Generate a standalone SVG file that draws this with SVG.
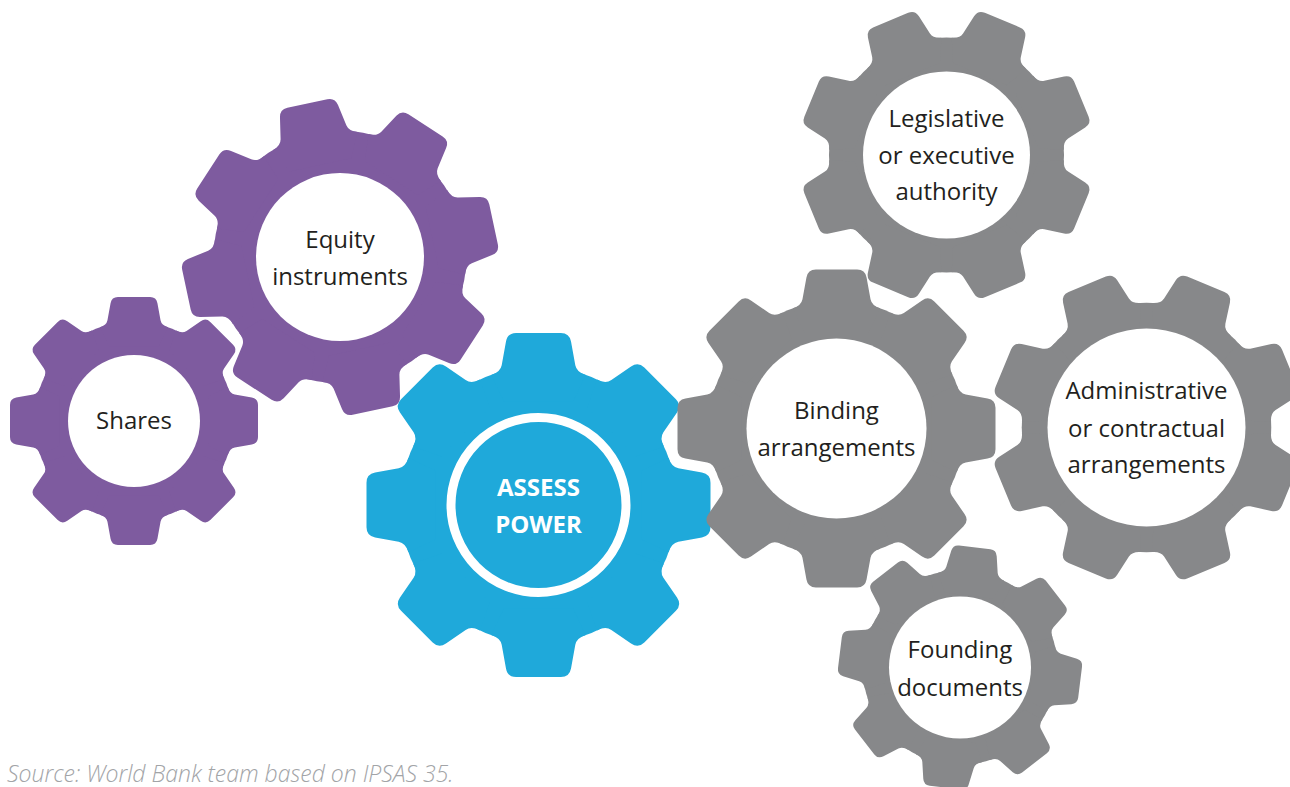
<svg xmlns="http://www.w3.org/2000/svg" xmlns:xlink="http://www.w3.org/1999/xlink" width="1290" height="787" viewBox="0 0 1290 787">
  <style>
    .purple { fill: #7e5b9f; }
    .blue { fill: #1fa9da; }
    .gray { fill: #87888a; }
    .hole { fill: #ffffff; }
    .label { font-family: "Open Sans", "Liberation Sans", sans-serif; font-size: 24px; fill: #231f20; text-anchor: middle; }
    .label-strong { font-family: "Open Sans", "Liberation Sans", sans-serif; font-size: 24px; font-weight: 700; fill: #ffffff; text-anchor: middle; }
    .source { font-family: "Open Sans", "Liberation Sans", sans-serif; font-size: 23px; font-style: italic; font-weight: 300; fill: #a2a4a7; }
  </style>
  <defs>
    <!-- one tooth pointing along +x, tip at radius 100, with filleted roots -->
    <path id="tooth" d="M75.6,27.5 Q77.3,22.15 81.3,21.4 L95,18.9 Q100,18 100,13 L100,-13 Q100,-18 95,-18.9 L81.3,-21.4 Q77.3,-22.15 75.6,-27.5 L60,-20 L60,20 Z"/>
    <!-- eight-tooth gear, outer radius 100 -->
    <g id="gear">
      <circle r="80.5"/>
      <use href="#tooth"/>
      <use href="#tooth" transform="rotate(45)"/>
      <use href="#tooth" transform="rotate(90)"/>
      <use href="#tooth" transform="rotate(135)"/>
      <use href="#tooth" transform="rotate(180)"/>
      <use href="#tooth" transform="rotate(225)"/>
      <use href="#tooth" transform="rotate(270)"/>
      <use href="#tooth" transform="rotate(315)"/>
    </g>
  </defs>

  <rect width="1290" height="787" fill="#ffffff"/>

  <g id="connectors"></g>

  <g id="node-shares">
    <use href="#gear" class="purple" transform="translate(134,421) scale(1.24)"/>
    <circle class="hole" cx="134" cy="421" r="66"/>
    <text class="label" x="134" y="429">Shares</text>
  </g>

  <g id="node-equity">
    <use href="#gear" class="purple" transform="translate(340,257) rotate(-12) scale(1.57)"/>
    <circle class="hole" cx="340" cy="257" r="84"/>
    <text class="label" x="340" y="248">Equity</text>
    <text class="label" x="340" y="285">instruments</text>
  </g>

  <g id="node-assess-power">
    <use href="#gear" class="blue" transform="translate(538.5,505) scale(1.72)"/>
    <circle cx="538.5" cy="505" r="87.5" fill="none" stroke="#ffffff" stroke-width="9"/>
    <text class="label-strong" x="538.5" y="496">ASSESS</text>
    <text class="label-strong" x="538.5" y="533">POWER</text>
  </g>

  <g id="node-legislative">
    <use href="#gear" class="gray" transform="translate(946.5,155) rotate(22.5) scale(1.46)"/>
    <circle class="hole" cx="946.5" cy="155" r="83.5"/>
    <text class="label" x="946.5" y="127">Legislative</text>
    <text class="label" x="946.5" y="164">or executive</text>
    <text class="label" x="946.5" y="200">authority</text>
  </g>

  <g id="node-binding">
    <use href="#gear" class="gray" transform="translate(836.5,428.5) scale(1.59)"/>
    <circle class="hole" cx="836.5" cy="428.5" r="90"/>
    <text class="label" x="836.5" y="419">Binding</text>
    <text class="label" x="836.5" y="456">arrangements</text>
  </g>

  <g id="node-administrative">
    <use href="#gear" class="gray" transform="translate(1146.5,427.5) rotate(22.5) scale(1.55)"/>
    <circle class="hole" cx="1146.5" cy="427.5" r="99"/>
    <text class="label" x="1146.5" y="399">Administrative</text>
    <text class="label" x="1146.5" y="437">or contractual</text>
    <text class="label" x="1146.5" y="473">arrangements</text>
  </g>

  <g id="node-founding">
    <use href="#gear" class="gray" transform="translate(960,667.5) rotate(7) scale(1.21)"/>
    <circle class="hole" cx="960" cy="667.5" r="71"/>
    <text class="label" x="960" y="658">Founding</text>
    <text class="label" x="960" y="696">documents</text>
  </g>

  <text class="source" x="7" y="782">Source: World Bank team based on IPSAS 35.</text>
</svg>
